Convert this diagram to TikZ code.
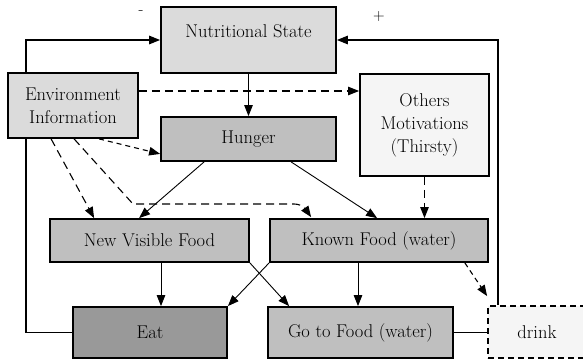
\documentclass[tikz,border=0pt]{standalone}
\usetikzlibrary{arrows.meta}
\begin{document}
\begin{tikzpicture}[x=1pt,y=-1pt,
  txt/.style={font=\rmfamily\fontsize{18.5}{23}\selectfont},
  box/.style={draw=black, line width=1.8pt, rectangle, inner sep=0pt, txt, align=center},
  boxA/.style={box, fill=black!14},
  boxB/.style={box, fill=black!25},
  boxC/.style={box, fill=black!40},
  boxD/.style={box, fill=black!4},
  arr/.style={-{Triangle[length=11pt,width=8.5pt]}},
  thin line/.style={line width=0.9pt},
  loopline/.style={line width=1.4pt},
  longdash/.style={line width=1.1pt, dash pattern=on 8pt off 5pt},
  shortdash/.style={line width=1.1pt, dash pattern=on 5pt off 4pt},
  sign/.style={font=\rmfamily\fontsize{16}{16}\selectfont, inner sep=0pt}]
\useasboundingbox (0,0) rectangle (583,361);
% boxes
\node[boxA, minimum width=175, minimum height=66] (ns) at (248.5,40) {};
\node[txt, inner sep=0pt] (nst) at (248.5,31) {Nutritional State};
\node[boxA, minimum width=130, minimum height=65] (env) at (73,105.5) {Environment\\Information};
\node[boxB, minimum width=175, minimum height=44] (hun) at (248.5,139) {Hunger};
\node[boxD, minimum width=129, minimum height=102] (oth) at (424.5,125) {Others\\Motivations\\(Thirsty)};
\node[boxB, minimum width=199, minimum height=43] (nvf) at (149.5,240.5) {New Visible Food};
\node[boxB, minimum width=218, minimum height=43] (kf) at (379,240.5) {Known Food (water)};
\node[boxC, minimum width=154, minimum height=51] (eat) at (150,332.5) {Eat};
\node[boxB, minimum width=185, minimum height=51] (go) at (360.5,332.5) {Go to Food (water)};
\node[boxD, dash pattern=on 6pt off 4pt, minimum width=98, minimum height=52] (drink) at (537,332) {drink};
% signs
\node[sign] (minus) at (141,13) {-};
\node[sign] (plus) at (379,17) {+};
% loops
\draw[loopline, arr] ([xshift=19pt]env.north west) |- (ns.west);
\draw[loopline] ([xshift=19pt]env.south west) |- (eat.west);
\draw[loopline, arr] ([xshift=11pt]drink.north west) |- (ns.east);
\draw[loopline] (go.east) -- (drink.west |- go.east);
% solid connectors
\draw[thin line, arr] (ns.south) -- (hun.north);
\draw[thin line, arr] ([xshift=44pt]hun.south west) -- ([xshift=90pt]nvf.north west);
\draw[thin line, arr] ([xshift=131pt]hun.south west) -- ([xshift=108pt]kf.north west);
\draw[thin line, arr] ([xshift=11.5pt]nvf.south) -- ([xshift=11.5pt]eat.north -| nvf.south);
\draw[thin line, arr] (nvf.south east) -- ([xshift=22pt]go.north west);
\draw[thin line, arr] (kf.south west) -- (eat.north east);
\draw[thin line, arr] ([xshift=-21pt]kf.south) -- ([xshift=-21pt]kf.south |- go.north);
% dashed connectors
\draw[longdash, arr] ([yshift=14.5pt]env.east) -- ([yshift=14.5pt]env.east -| oth.west);
\draw[shortdash, arr] ([xshift=92pt]env.south west) -- ([yshift=8pt]hun.south west);
\draw[longdash, arr] ([xshift=44pt]env.south west) -- ([xshift=45pt]nvf.north west);
\coordinate (k1) at (133,204);
\coordinate (k2) at (294,204);
\draw[longdash, arr] ([xshift=67pt]env.south west) -- (k1) -- (k2) to[out=0,in=125] ([xshift=42pt,yshift=1pt]kf.north west);
\draw[longdash, arr] (oth.south) -- (oth.south |- kf.north);
\draw[shortdash, arr] ([xshift=-24pt]kf.south east) -- ([yshift=9pt]drink.north west);
\end{tikzpicture}
\end{document}
